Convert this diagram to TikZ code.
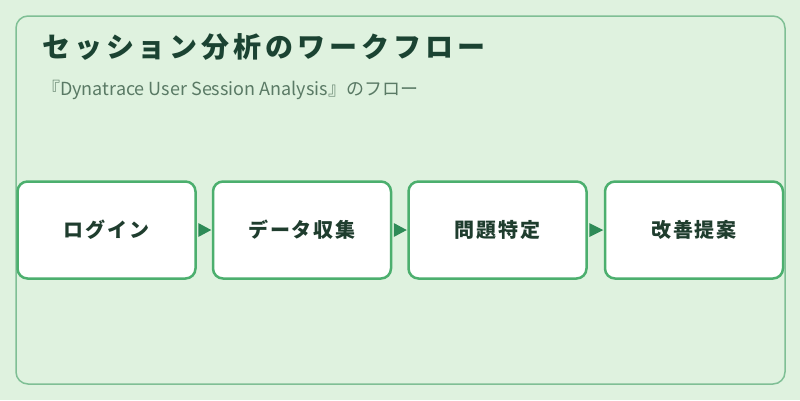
\documentclass[tikz,border=0pt]{standalone}
\usepackage{fontspec}
\setmainfont{Noto Sans CJK JP}
\newfontfamily\titlefont{Noto Sans CJK JP}[LetterSpace=14]
\newfontfamily\labfont{Noto Sans CJK JP}[LetterSpace=9]
\definecolor{bgc}{HTML}{DFF2DF}
\definecolor{framec}{HTML}{7FBF95}
\definecolor{boxc}{HTML}{4CAF6E}
\definecolor{arrc}{HTML}{2E8B57}
\definecolor{titlec}{HTML}{1B4332}
\definecolor{subc}{HTML}{5A7A65}
\definecolor{labc}{HTML}{1F3D2E}
\begin{document}
\begin{tikzpicture}[x=1pt,y=-1pt,
  stepbox/.style={draw=boxc,line width=2.5pt,fill=white,rounded corners=10pt,
    minimum width=178pt,minimum height=97pt,inner sep=0pt,
    font=\labfont\fontsize{20}{24}\selectfont\bfseries,text=labc},
  flow/.style={draw=none,fill=arrc}]
\useasboundingbox (0,0) rectangle (800,400);
\fill[bgc] (0,0) rectangle (800,400);
\draw[framec,line width=1.5pt,rounded corners=12pt] (16,16) rectangle (785,384);
\node[anchor=base west,inner sep=0pt,text=titlec,font=\titlefont\fontsize{28}{32}\selectfont\bfseries] (title) at (42,57) {セッション分析のワークフロー};
\node[anchor=base west,inner sep=0pt,text=subc,font=\fontsize{18}{22}\selectfont] (sub) at (42,95) {『Dynatrace User Session Analysis』のフロー};
\node[stepbox] (s1) at (106.5,230) {ログイン};
\node[stepbox] (s2) at (302,230) {データ収集};
\node[stepbox] (s3) at (497.5,230) {問題特定};
\node[stepbox] (s4) at (694,230) {改善提案};
\foreach \a/\b in {s1/s2,s2/s3,s3/s4}{
  \fill[arrc] ([xshift=1.5pt,yshift=-7pt]\a.east) -- ([xshift=-0.5pt]\b.west) -- ([xshift=1.5pt,yshift=7pt]\a.east) -- cycle;
}
\end{tikzpicture}
\end{document}
